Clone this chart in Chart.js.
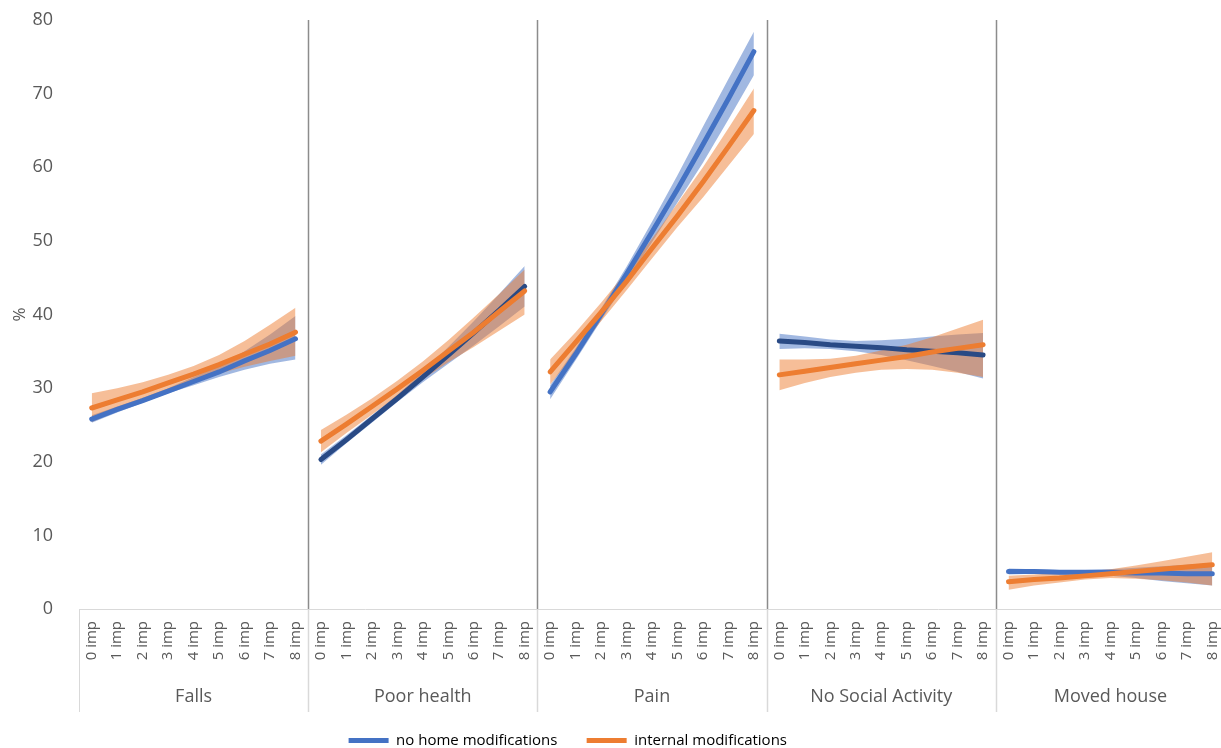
<!DOCTYPE html>
<html>
<head>
<meta charset="utf-8">
<script src="https://cdn.jsdelivr.net/npm/chart.js@4.4.1/dist/chart.umd.min.js"></script>
<style>
  body { margin: 0; background: #fff; overflow: hidden; }
  #wrap { width: 1225px; height: 748px; }
</style>
</head>
<body>
<div id="wrap"><canvas id="chart"></canvas></div>
<script>
// Panels and x labels
const outcomes = ['Falls', 'Poor health', 'Pain', 'No Social Activity', 'Moved house'];
const impLabels = ['0 imp', '1 imp', '2 imp', '3 imp', '4 imp', '5 imp', '6 imp', '7 imp', '8 imp'];

// no home modifications: estimate, lower and upper bound (one row per panel)
const noMods = [
    [25.8, 27.1, 28.3, 29.6, 30.9, 32.2, 33.7, 35.1, 36.7],
    [20.3, 23.0, 25.8, 28.6, 31.5, 34.5, 37.5, 40.6, 43.8],
    [29.5, 34.6, 40.0, 45.5, 51.2, 57.0, 63.1, 69.3, 75.7],
    [36.4, 36.2, 35.9, 35.7, 35.5, 35.2, 35.0, 34.8, 34.5],
    [5.1, 5.1, 5.0, 5.0, 5.0, 4.9, 4.9, 4.8, 4.8]
];
const noModsLow = [
    [25.3, 26.7, 28.0, 29.3, 30.4, 31.5, 32.5, 33.3, 33.9],
    [19.6, 22.5, 25.3, 28.1, 30.8, 33.3, 35.8, 38.4, 41.1],
    [28.5, 33.8, 39.2, 44.5, 49.8, 55.2, 60.6, 66.5, 72.5],
    [35.3, 35.4, 35.3, 35.0, 34.5, 33.8, 33.0, 32.2, 31.3],
    [4.7, 4.8, 4.8, 4.7, 4.5, 4.2, 3.8, 3.5, 3.2]
];
const noModsHigh = [
    [26.3, 27.5, 28.7, 30.0, 31.5, 33.0, 35.0, 37.3, 39.8],
    [21.0, 23.6, 26.3, 29.1, 32.2, 35.6, 39.1, 42.8, 46.6],
    [30.4, 35.4, 40.8, 46.5, 52.6, 58.9, 65.5, 72.0, 78.4],
    [37.4, 37.0, 36.6, 36.4, 36.5, 36.7, 37.0, 37.3, 37.5],
    [5.5, 5.4, 5.3, 5.3, 5.4, 5.6, 5.8, 6.0, 6.2]
];

// internal modifications
const internalMods = [
    [27.3, 28.4, 29.5, 30.7, 31.9, 33.2, 34.6, 36.0, 37.6],
    [22.8, 25.1, 27.5, 29.9, 32.4, 35.0, 37.6, 40.4, 43.2],
    [32.2, 36.2, 40.3, 44.5, 49.0, 53.4, 58.0, 62.8, 67.7],
    [31.8, 32.3, 32.8, 33.3, 33.8, 34.3, 34.9, 35.4, 35.9],
    [3.7, 4.0, 4.2, 4.5, 4.8, 5.1, 5.4, 5.7, 6.0]
];
const internalLow = [
    [25.4, 26.9, 28.3, 29.7, 30.9, 32.0, 32.9, 33.7, 34.4],
    [21.3, 23.9, 26.4, 28.9, 31.2, 33.5, 35.6, 37.8, 40.0],
    [30.5, 34.8, 39.1, 43.3, 47.6, 51.9, 55.9, 60.2, 64.5],
    [29.7, 30.7, 31.5, 32.1, 32.5, 32.6, 32.5, 32.1, 31.5],
    [2.6, 3.2, 3.6, 4.0, 4.2, 4.1, 3.9, 3.6, 3.2]
];
const internalHigh = [
    [29.3, 30.0, 30.8, 31.8, 33.0, 34.5, 36.4, 38.6, 40.9],
    [24.3, 26.4, 28.6, 31.0, 33.6, 36.5, 39.6, 42.8, 46.1],
    [33.9, 37.6, 41.6, 45.8, 50.3, 55.1, 60.0, 65.3, 70.7],
    [33.9, 33.9, 34.0, 34.4, 35.1, 35.9, 36.9, 38.1, 39.3],
    [4.5, 4.7, 4.9, 5.1, 5.4, 5.9, 6.5, 7.1, 7.7]
];

const BLUE = '#4472C4';
const NAVY = '#294A85';
const ORANGE = '#ED7D31';
const BLUE_BAND = 'rgba(68, 114, 196, 0.5)';
const ORANGE_BAND = 'rgba(237, 125, 49, 0.5)';
const TEXT = '#595959';
const X_HEIGHT = 60;      // rotated "n imp" labels
const X2_BOX = 43;        // group label row inside the box
const X2_HEIGHT = 62;     // group label row plus gap above legend

const allLabels = [];
outcomes.forEach(() => impLabels.forEach(l => allLabels.push(l)));
const nPer = impLabels.length;

// place a panel's 9 values in a 45-slot array
function panelData(values, p) {
    const arr = new Array(outcomes.length * nPer).fill(null);
    values.forEach((v, i) => { arr[p * nPer + i] = v; });
    return arr;
}

const datasets = [];
function addBand(low, high, p, color, order) {
    const idx = datasets.length;
    datasets.push({
        data: panelData(high[p], p), fill: idx + 1, backgroundColor: color,
        borderWidth: 0, pointRadius: 0, order: order
    });
    datasets.push({
        data: panelData(low[p], p), fill: false,
        borderWidth: 0, pointRadius: 0, order: order
    });
}
function addLine(values, p, color, order) {
    datasets.push({
        data: panelData(values[p], p), borderColor: color, borderWidth: 5,
        borderCapStyle: 'round', pointRadius: 0, fill: false, order: order
    });
}

outcomes.forEach((o, p) => {
    addBand(noModsLow, noModsHigh, p, BLUE_BAND, 4);
    addBand(internalLow, internalHigh, p, ORANGE_BAND, 3);
    addLine(noMods, p, (p === 1 || p === 3) ? NAVY : BLUE, 2);
    addLine(internalMods, p, ORANGE, 1);
});

// dividers between panels and the category box
const panelLines = {
    id: 'panelLines',
    afterDraw(chart) {
        const ctx = chart.ctx;
        const x = chart.scales.x;
        const x2 = chart.scales.x2;
        const area = chart.chartArea;
        const boxBottom = x2.top + X2_BOX;
        ctx.save();
        ctx.lineWidth = 1.5;
        for (let p = 1; p < outcomes.length; p++) {
            const px = Math.round((x.getPixelForValue(p * nPer - 1) + x.getPixelForValue(p * nPer)) / 2) + 0.5;
            ctx.strokeStyle = '#8C8C8C';
            ctx.beginPath();
            ctx.moveTo(px, area.top);
            ctx.lineTo(px, area.bottom);
            ctx.stroke();
            ctx.strokeStyle = '#D9D9D9';
            ctx.beginPath();
            ctx.moveTo(px, area.bottom);
            ctx.lineTo(px, boxBottom);
            ctx.stroke();
        }
        ctx.strokeStyle = '#D9D9D9';
        ctx.lineWidth = 1;
        ctx.beginPath();
        ctx.moveTo(x.left, area.bottom + 0.5);
        ctx.lineTo(x.right, area.bottom + 0.5);
        ctx.moveTo(x.left + 0.5, area.bottom);
        ctx.lineTo(x.left + 0.5, boxBottom);
        ctx.stroke();
        ctx.restore();
    }
};

const noSidePadding = scale => { scale.paddingLeft = 0; scale.paddingRight = 0; };

new Chart(document.getElementById('chart'), {
    type: 'line',
    data: { labels: allLabels, datasets: datasets },
    options: {
        responsive: true,
        maintainAspectRatio: false,
        animation: false,
        spanGaps: false,
        layout: { padding: { top: 20, right: 0, left: 8, bottom: -10 } },
        scales: {
            x: {
                type: 'category',
                labels: allLabels,
                offset: true,
                weight: 0,
                grid: { display: false, drawTicks: false },
                border: { display: false },
                afterFit: scale => { noSidePadding(scale); scale.height = X_HEIGHT; },
                ticks: {
                    autoSkip: false, minRotation: 90, maxRotation: 90,
                    color: TEXT, padding: 12,
                    font: { family: 'Open Sans', size: 15 }
                }
            },
            x2: {
                type: 'category',
                labels: outcomes,
                position: 'bottom',
                offset: true,
                weight: 1,
                grid: { display: false, drawTicks: false },
                border: { display: false },
                afterFit: scale => { noSidePadding(scale); scale.height = X2_HEIGHT; },
                ticks: { color: TEXT, padding: 17, font: { family: 'Open Sans', size: 18 } }
            },
            y: {
                min: 0, max: 80,
                grid: { display: false },
                border: { display: false },
                afterFit: scale => { scale.width = 71; scale.paddingTop = 0; scale.paddingBottom = 0; },
                ticks: { stepSize: 10, color: TEXT, padding: 18, font: { family: 'Open Sans', size: 18 } },
                title: { display: true, text: '%', color: TEXT, font: { family: 'Open Sans', size: 17 }, padding: 2 }
            }
        },
        plugins: {
            tooltip: { enabled: false },
            legend: {
                position: 'bottom',
                labels: {
                    boxWidth: 40, boxHeight: 5, padding: 2, color: TEXT,
                    font: { family: 'Open Sans', size: 15 },
                    generateLabels: () => [
                        { text: 'no home modifications       ', fillStyle: BLUE, strokeStyle: BLUE, lineWidth: 0, hidden: false },
                        { text: 'internal modifications                         ', fillStyle: ORANGE, strokeStyle: ORANGE, lineWidth: 0, hidden: false }
                    ]
                }
            }
        }
    },
    plugins: [panelLines]
});
</script>
</body>
</html>
